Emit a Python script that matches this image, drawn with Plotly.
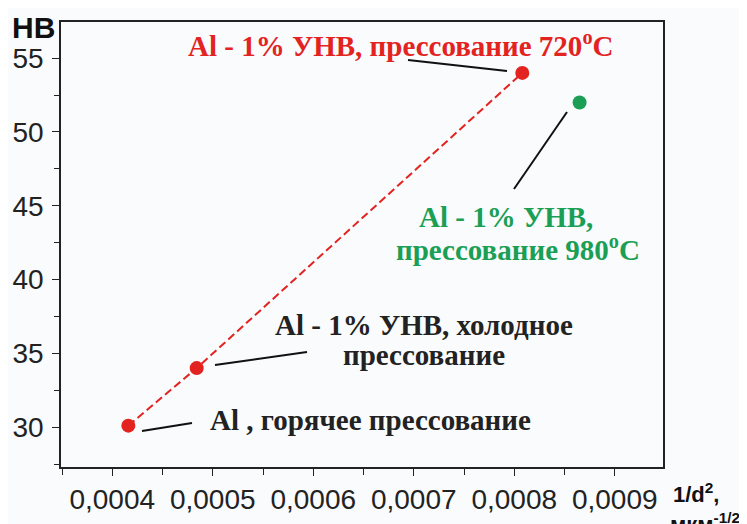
import plotly.graph_objects as go

# ---- data ----
red_x = [0.000416, 0.000484, 0.000808]
red_y = [30.1, 34.0, 54.0]
green_x = [0.000865]
green_y = [52.0]
x_tickvals = [0.0004, 0.0005, 0.0006, 0.0007, 0.0008, 0.0009]
x_ticktext = ["0,0004", "0,0005", "0,0006", "0,0007", "0,0008", "0,0009"]
y_tickvals = [30, 35, 40, 45, 50, 55]

# page body has an 8px margin: size the figure so the whole page is 747x524
OFF = 8
W, H = 747 - OFF, 524 - OFF
PL, PR, PT, PB = 61, 663, 22, 467          # plot frame in window pixels
XR = [0.000349, 0.000948]
YR = [27.3, 57.45]

def px2x(px):
    return XR[0] + (px - PL) / (PR - PL) * (XR[1] - XR[0])

def py2y(py):
    return YR[0] + (PB - py) / (PB - PT) * (YR[1] - YR[0])

def pxp(px):
    return (px - PL) / (PR - PL)

def pyp(py):
    return 1 - (py - PT) / (PB - PT)

RED = "#e3231f"
GREEN = "#1a9f55"
SERIF = "Liberation Serif, Times New Roman, serif"
SANS = "Liberation Sans, Arial, sans-serif"

fig = go.Figure()
fig.add_trace(go.Scatter(x=red_x, y=red_y, mode="lines+markers",
                         line=dict(color=RED, width=2, dash="8px,4px"),
                         marker=dict(color=RED, size=14), showlegend=False))
fig.add_trace(go.Scatter(x=green_x, y=green_y, mode="markers",
                         marker=dict(color=GREEN, size=14), showlegend=False))

callouts = [((408, 60), (507, 71)), ((514, 189), (567, 112)),
            ((215, 365), (307, 352)), ((142, 431), (192, 423))]
for (a, b) in callouts:
    fig.add_shape(type="line", xref="x", yref="y",
                  x0=px2x(a[0]), y0=py2y(a[1]), x1=px2x(b[0]), y1=py2y(b[1]),
                  line=dict(color="#111", width=2))

labels = [
    ("Al - 1% УНВ, прессование 720<sup>o</sup>C", 400, 44, RED),
    ("Al - 1% УНВ,", 506, 217, GREEN),
    ("прессование 980<sup>o</sup>C", 518, 248, GREEN),
    ("Al - 1% УНВ, холодное", 424, 325, "#222"),
    ("прессование", 424, 355, "#222"),
    ("Al , горячее прессование", 370, 420, "#222"),
]
for txt, cx, cy, col in labels:
    fig.add_annotation(x=px2x(cx), y=py2y(cy), xref="x", yref="y", text="<b>" + txt + "</b>",
                       showarrow=False, xanchor="center", yanchor="middle",
                       font=dict(family=SERIF, size=29, color=col))

fig.add_annotation(x=pxp(33), y=pyp(27), xref="paper", yref="paper", text="<b>HB</b>",
                   showarrow=False, xanchor="center", yanchor="middle",
                   font=dict(family=SANS, size=30, color="#111"))
fig.add_annotation(x=pxp(671), y=pyp(493), xref="paper", yref="paper",
                   text="<b>1/d<sup>2</sup>,</b>", showarrow=False, xanchor="left", yanchor="middle",
                   font=dict(family=SANS, size=22, color="#111"))
fig.add_annotation(x=pxp(668), y=pyp(507), xref="paper", yref="paper",
                   text="<b>мкм<sup>-1/2</sup></b>", showarrow=False, xanchor="left", yanchor="top",
                   font=dict(family=SANS, size=22, color="#111"))

axis_common = dict(showline=True, linecolor="#222", linewidth=1.6, mirror=True,
                   ticks="outside", tickcolor="#222", tickwidth=1.4, ticklen=7,
                   showgrid=False, zeroline=False,
                   tickfont=dict(family=SANS, size=28, color="#222"))
fig.update_xaxes(range=XR, tickvals=x_tickvals, ticktext=x_ticktext,
                 minor=dict(ticks="outside", ticklen=6, tickcolor="#222", tickwidth=1.4,
                            dtick=0.00005, tick0=0.0004), **axis_common)
fig.update_yaxes(range=YR, tickvals=y_tickvals, ticklabelstandoff=3,
                 minor=dict(ticks="outside", ticklen=5, tickcolor="#222", tickwidth=1.4,
                            dtick=2.5, tick0=30), **axis_common)

fig.update_layout(width=W, height=H,
                  margin=dict(l=PL - OFF, r=W - (PR - OFF), t=PT - OFF, b=H - (PB - OFF),
                              autoexpand=False),
                  paper_bgcolor="#f9fbfd", plot_bgcolor="#f9fbfd")
fig.write_html("out.html")
